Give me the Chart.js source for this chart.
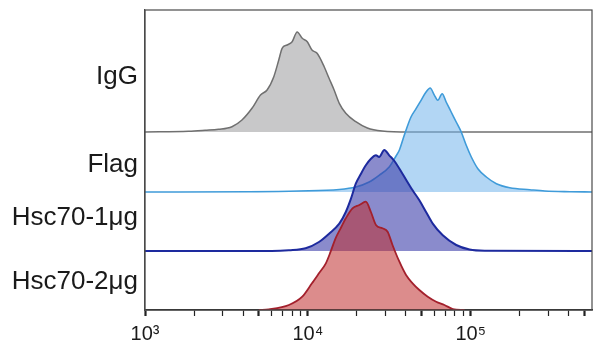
<!DOCTYPE html>
<html>
<head>
<meta charset="utf-8">
<script src="https://cdn.jsdelivr.net/npm/chart.js@4"></script>
<style>
  html, body { margin: 0; padding: 0; background: #fff; }
  #wrap { width: 600px; height: 352px; }
</style>
</head>
<body>
<div id="wrap"><canvas id="flowChart"></canvas></div>
<script>
// lane names (top to bottom) and x tick labels
const laneLabels = ['IgG', 'Flag', 'Hsc70-1μg', 'Hsc70-2μg'];
const xTickValues = [1000, 10000, 100000];
const xTickLabels = ['10³', '10⁴', '10⁵'];

// histograms: fluorescence value / cell count
const iggX = [1000, 1850, 2340, 2830, 3420, 3940, 4540, 5120, 5620, 6180, 6630, 6950, 7460, 8010, 8600, 9240, 9920, 10600, 11400, 12600, 13500, 14500, 15600, 17100, 19700, 23200, 28600, 42000, 556000];
const iggY = [0, 0.7, 1.7, 2.7, 5.3, 12, 23.7, 37, 42, 55.3, 72, 83.7, 87, 90.3, 100, 93.7, 90.3, 82, 78.7, 65.3, 53.7, 42, 28.7, 18.7, 10.3, 4, 1, 0, 0];

const flagX = [1000, 4330, 8810, 15600, 19700, 23800, 27400, 31600, 34800, 36500, 39100, 43000, 46200, 49600, 53200, 56400, 59900, 62800, 66800, 70700, 75900, 81500, 87500, 93900, 100900, 110700, 124800, 143800, 173800, 230700, 285500, 407000, 556000];
const flagY = [0, 0.3, 1, 2.5, 5, 10, 16.7, 25, 36, 42, 56.7, 75, 83.3, 91.7, 100, 104, 96.7, 91.7, 98.3, 90, 80, 70, 60, 46.7, 35, 23.3, 15, 8.3, 4.3, 2.3, 1, 0.3, 0];

const hsc1X = [1000, 6000, 7650, 9690, 11700, 13500, 15600, 17100, 18400, 19700, 21200, 22700, 24400, 26200, 27400, 29500, 31600, 34000, 38200, 44000, 48400, 53200, 58500, 67400, 81500, 98400, 121800, 556000];
const hsc1Y = [0, 0, 0.7, 2.7, 9, 17.3, 27.3, 39, 52.3, 67.3, 77.3, 85.7, 92.3, 95.7, 94, 101, 95.7, 90, 77, 60.7, 50.7, 39, 27.4, 15.7, 6, 1.5, 0.3, 0];

const hsc2X = [5000, 5760, 7650, 9240, 10600, 11700, 12900, 13800, 14800, 15900, 17100, 18800, 20700, 22700, 24400, 26200, 28700, 30900, 33100, 36500, 40100, 44000, 48400, 54500, 61400, 69000, 77700, 91700];
const hsc2Y = [0, 0.7, 5, 13.3, 26.7, 36.7, 46.7, 58.3, 71.7, 81.7, 91.7, 101.7, 105, 108.3, 98, 85, 81.7, 78.3, 65, 48.3, 35, 26.7, 20, 13.3, 8.3, 5, 1, 0];

// layout of the stacked lanes (y units = px of plot height)
const laneBase = [178, 118, 59, 0];
const labelY = [233, 145, 92, 28];

const fontFamily = '"Liberation Sans", Arial, Helvetica, sans-serif';

function makeSeries(xs, ys, base) {
  return xs.map((x, i) => ({ x: x, y: base + ys[i] }));
}

// draws the closed box around the plot
const framePlugin = {
  id: 'frame',
  afterDraw(chart) {
    const { ctx, chartArea: a } = chart;
    ctx.save();
    ctx.strokeStyle = '#4a4a4a';
    ctx.lineWidth = 1.2;
    ctx.strokeRect(a.left, a.top, a.right - a.left, a.bottom - a.top);
    ctx.restore();
  }
};

const ctx = document.getElementById('flowChart');

new Chart(ctx, {
  type: 'line',
  data: {
    // first dataset is drawn on top
    datasets: [
      {
        label: laneLabels[3],
        data: makeSeries(hsc2X, hsc2Y, laneBase[3]),
        borderColor: '#a3202c',
        backgroundColor: 'rgba(192, 45, 45, 0.55)',
        borderWidth: 1.8,
        fill: { value: laneBase[3] }
      },
      {
        label: laneLabels[2],
        data: makeSeries(hsc1X, hsc1Y, laneBase[2]),
        borderColor: '#1d2a9e',
        backgroundColor: 'rgba(60, 62, 170, 0.6)',
        borderWidth: 2,
        fill: { value: laneBase[2] }
      },
      {
        label: laneLabels[1],
        data: makeSeries(flagX, flagY, laneBase[1]),
        borderColor: '#3f9bd9',
        backgroundColor: 'rgba(115, 180, 235, 0.55)',
        borderWidth: 1.6,
        fill: { value: laneBase[1] }
      },
      {
        label: laneLabels[0],
        data: makeSeries(iggX, iggY, laneBase[0]),
        borderColor: '#707070',
        backgroundColor: 'rgba(190, 190, 192, 0.85)',
        borderWidth: 1.5,
        fill: { value: laneBase[0] }
      }
    ]
  },
  options: {
    responsive: true,
    maintainAspectRatio: false,
    animation: false,
    layout: { padding: { top: 10, right: 8, left: 0, bottom: 0 } },
    elements: {
      point: { radius: 0 },
      line: { cubicInterpolationMode: 'monotone' }
    },
    plugins: {
      legend: { display: false },
      tooltip: { enabled: false }
    },
    scales: {
      x: {
        type: 'logarithmic',
        min: 1000,
        max: 556000,
        afterBuildTicks: scale => {
          let ticks = [];
          for (let p = 1000; p <= 100000; p *= 10) {
            for (let k = 1; k <= 9; k++) {
              if (k * p <= scale.max) ticks.push({ value: k * p });
            }
          }
          scale.ticks = ticks;
        },
        afterFit: scale => {
          scale.height = 42;
          scale.paddingLeft = 0;
          scale.paddingRight = 0;
        },
        ticks: {
          autoSkip: false,
          maxRotation: 0,
          padding: 6,
          color: '#1a1a1a',
          font: { family: fontFamily, size: 20 },
          callback: value => {
            const i = xTickValues.indexOf(value);
            return i >= 0 ? xTickLabels[i] : '';
          }
        },
        grid: {
          drawOnChartArea: false,
          tickLength: 6,
          tickColor: '#222',
          tickWidth: c => (c.tick && (String(c.tick.value)[0] === '1' || String(c.tick.value)[0] === '5')) ? 2.2 : 1.2
        },
        border: { color: '#222', width: 1.5 }
      },
      y: {
        type: 'linear',
        min: 0,
        max: 300,
        afterBuildTicks: scale => {
          scale.ticks = labelY.map(v => ({ value: v }));
        },
        afterFit: scale => {
          scale.width = 145;
          scale.paddingTop = 0;
          scale.paddingBottom = 0;
        },
        ticks: {
          autoSkip: false,
          padding: 7,
          color: '#1a1a1a',
          font: { family: fontFamily, size: 26 },
          callback: (value, index) => laneLabels[index]
        },
        grid: { display: false, drawTicks: false },
        border: { color: '#4a4a4a', width: 1.2 }
      }
    }
  },
  plugins: [framePlugin]
});
</script>
</body>
</html>
